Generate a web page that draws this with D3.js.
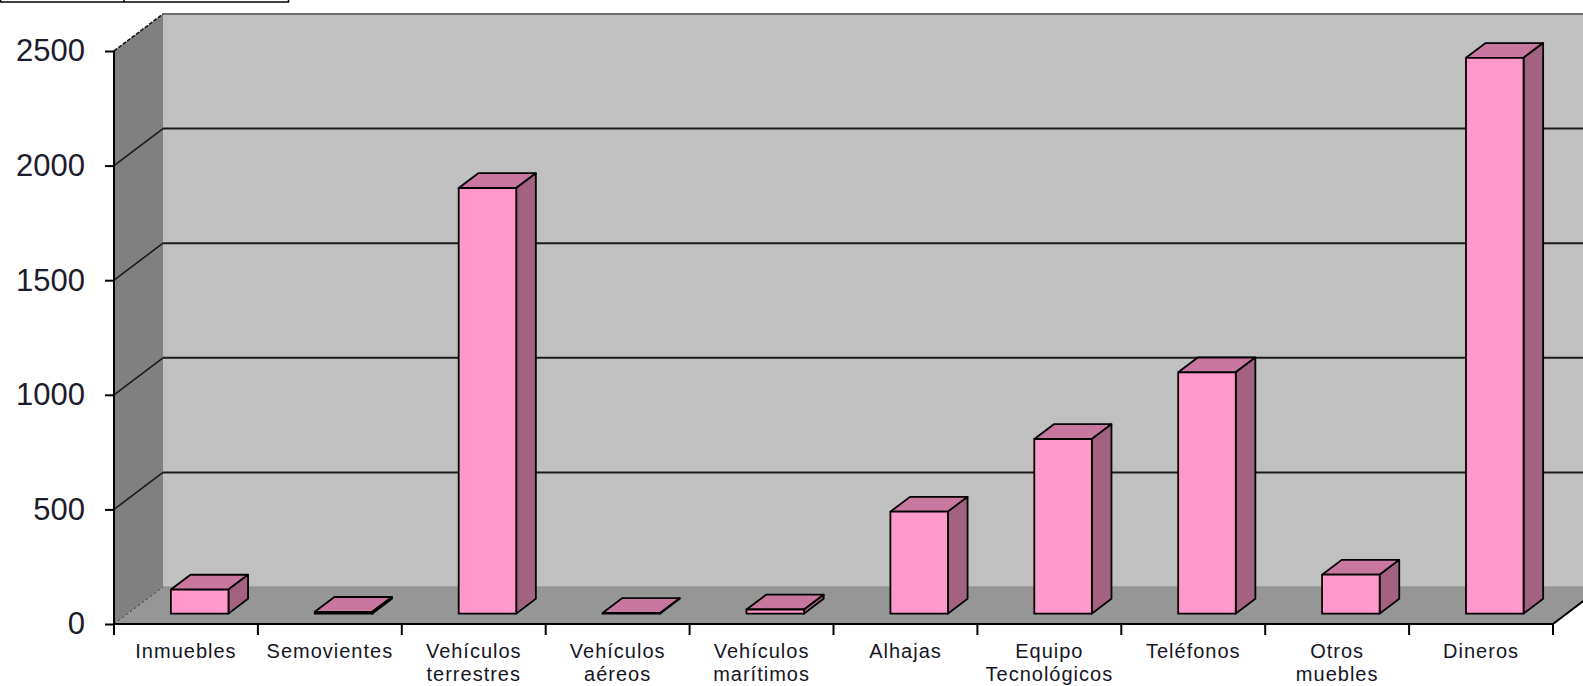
<!DOCTYPE html>
<html>
<head>
<meta charset="utf-8">
<script src="https://cdn.jsdelivr.net/npm/d3@7"></script>
<style>
  html, body { margin: 0; padding: 0; background: #fff; overflow: hidden; }
  svg { display: block; }
</style>
</head>
<body>
<svg id="chart" width="1583" height="686"></svg>
<script>
// ---- data ----
const categories = ["Inmuebles", "Semovientes", "Vehículos terrestres", "Vehículos aéreos",
  "Vehículos marítimos", "Alhajas", "Equipo Tecnológicos", "Teléfonos", "Otros muebles", "Dineros"];
const labelLines = [["Inmuebles"], ["Semovientes"], ["Vehículos", "terrestres"], ["Vehículos", "aéreos"],
  ["Vehículos", "marítimos"], ["Alhajas"], ["Equipo", "Tecnológicos"], ["Teléfonos"], ["Otros", "muebles"], ["Dineros"]];
const values = [105, 8, 1857, 3, 18, 445, 762, 1053, 170, 2425];
const yTicks = [0, 500, 1000, 1500, 2000, 2500];

// ---- layout ----
const svg = d3.select("#chart");
const pLeft = 114, pRight = 1553, pBottom = 624, pTop = 51;
const DX = 49, DY = 37;               // depth offset
const zFront = 0.28, zBack = 0.68;    // bar depth range

const x = d3.scaleBand().domain(categories).range([pLeft, pRight]).paddingInner(0).paddingOuter(0);
const y = d3.scaleLinear().domain([0, 2500]).range([pBottom, pTop]);
const barW = x.bandwidth() * 0.4;
const P = (px, py, z) => [px + z * DX, py - z * DY];

// partial legend-like box at the top-left
svg.append("rect").attr("x", 0.5).attr("y", -30).attr("width", 288).attr("height", 32)
  .attr("fill", "#fff").attr("stroke", "#000").attr("stroke-width", 1.5);
svg.append("line").attr("x1", 124).attr("x2", 124).attr("y1", -30).attr("y2", 2)
  .attr("stroke", "#000").attr("stroke-width", 1.5);

// walls
const backL = pLeft + DX, backR = pRight + DX + 60;
svg.append("polygon")
  .attr("points", [[pLeft, y(2500)], [backL, y(2500) - DY], [backL, y(0) - DY], [pLeft, y(0)]].join(" "))
  .attr("fill", "#808080");
svg.append("polygon")
  .attr("points", [[pLeft, y(0)], [backL, y(0) - DY], [backR + DX, y(0) - DY], [pRight + DX * 2, y(0) - DY * 2], [pRight, y(0)]].join(" "))
  .attr("fill", "#969696");
svg.append("rect").attr("x", backL).attr("y", y(2500) - DY).attr("width", backR - backL)
  .attr("height", y(0) - y(2500)).attr("fill", "#c0c0c0");
// back wall / floor boundary
svg.append("line").attr("x1", backL).attr("x2", backR).attr("y1", y(0) - DY).attr("y2", y(0) - DY)
  .attr("stroke", "#8a8a8a").attr("stroke-width", 1);

// gridlines
yTicks.filter(v => v > 0).forEach(v => {
  const yf = y(v), yb = y(v) - DY;
  svg.append("line").attr("x1", backL).attr("x2", backR).attr("y1", yb).attr("y2", yb)
    .attr("stroke", v === 2500 ? "#6e6e6e" : "#1a1a1a").attr("stroke-width", 2);
  svg.append("line").attr("x1", pLeft).attr("y1", yf).attr("x2", backL).attr("y2", yb)
    .attr("stroke", "#1a1a1a").attr("stroke-width", 1.6)
    .attr("stroke-dasharray", v === 2500 ? "4,1.5" : null);
});
// floor left diagonal
svg.append("line").attr("x1", pLeft).attr("y1", y(0)).attr("x2", backL).attr("y2", y(0) - DY)
  .attr("stroke", "#444").attr("stroke-width", 1).attr("stroke-dasharray", "3,2");

// bars
const g = svg.append("g");
categories.forEach((c, i) => {
  const v = values[i];
  const x0 = x(c) + x.bandwidth() / 2 - barW / 2, x1 = x0 + barW;
  const yb = y(0), yt = y(v);
  const fbl = P(x0, yb, zFront), fbr = P(x1, yb, zFront), ftl = P(x0, yt, zFront), ftr = P(x1, yt, zFront);
  const bbr = P(x1, yb, zBack), btl = P(x0, yt, zBack), btr = P(x1, yt, zBack);
  const poly = (pts, fill) => g.append("polygon").attr("points", pts.join(" ")).attr("fill", fill)
    .attr("stroke", "#000").attr("stroke-width", 1.8).attr("stroke-linejoin", "round");
  poly([ftl, ftr, btr, btl], "#c8789f");       // top
  poly([fbr, bbr, btr, ftr], "#a3627f");       // side
  poly([fbl, fbr, ftr, ftl], "#ff99cc");       // front
});

// axes lines
svg.append("line").attr("x1", pLeft).attr("x2", pLeft).attr("y1", y(2500)).attr("y2", y(0) + 1)
  .attr("stroke", "#000").attr("stroke-width", 2);
svg.append("line").attr("x1", pLeft).attr("x2", pRight).attr("y1", y(0)).attr("y2", y(0))
  .attr("stroke", "#000").attr("stroke-width", 2.2);
svg.append("line").attr("x1", pRight).attr("y1", y(0)).attr("x2", pRight + DX * 2).attr("y2", y(0) - DY * 2)
  .attr("stroke", "#000").attr("stroke-width", 2);

// y axis (ticks + labels)
const yAxis = svg.append("g").attr("transform", `translate(${pLeft},0)`)
  .call(d3.axisLeft(y).tickValues(yTicks).tickSize(9).tickPadding(20).tickFormat(d3.format("d")));
yAxis.select(".domain").remove();
yAxis.selectAll(".tick line").attr("stroke", "#000").attr("stroke-width", 2);
yAxis.selectAll(".tick text").attr("font-family", "Liberation Sans, Arial, sans-serif")
  .attr("font-size", 31).attr("fill", "#1c1c2c");

// x axis boundary ticks
const boundaries = d3.range(categories.length + 1).map(i => pLeft + i * x.bandwidth());
svg.selectAll(".xtick").data(boundaries).enter().append("line")
  .attr("x1", d => d).attr("x2", d => d).attr("y1", y(0)).attr("y2", y(0) + 11)
  .attr("stroke", "#000").attr("stroke-width", 2);

// x labels via axis
const xAxis = svg.append("g").attr("transform", `translate(0,${y(0)})`)
  .call(d3.axisBottom(x).tickSize(0).tickFormat(""));
xAxis.select(".domain").remove();
xAxis.selectAll(".tick").each(function (d, i) {
  const t = d3.select(this).append("text")
    .attr("font-family", "Liberation Sans, Arial, sans-serif")
    .attr("font-size", 20).attr("letter-spacing", 1.0).attr("fill", "#151525")
    .attr("text-anchor", "middle");
  labelLines[i].forEach((ln, k) => {
    t.append("tspan").attr("x", 0).attr("y", 34 + k * 23).text(ln);
  });
});
</script>
</body>
</html>
